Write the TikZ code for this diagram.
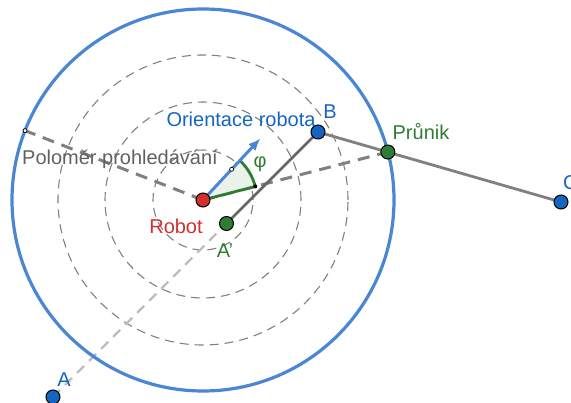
\documentclass[tikz,border=0pt]{standalone}
\usepackage{fontspec}
\setmainfont{Liberation Sans}
\usetikzlibrary{arrows.meta,calc}
\definecolor{ggblue}{HTML}{1565C0}
\definecolor{ggcircle}{HTML}{4A86D4}
\definecolor{ggred}{HTML}{D32F2F}
\definecolor{gggreen}{HTML}{2E7D32}
\definecolor{gggray}{HTML}{808080}
\definecolor{ggdark}{HTML}{666666}
\definecolor{gglight}{HTML}{BDBDBD}
\definecolor{ggtext}{HTML}{616161}
\begin{document}
\begin{tikzpicture}[x=1pt,y=1pt,
  pt/.style={circle,draw=black,line width=1pt,minimum size=14pt,inner sep=0pt},
  lbl/.style={font=\fontsize{20}{20}\selectfont,inner sep=0pt},
  ring/.style={draw=gggray,line width=1.1pt,dash pattern=on 9pt off 6pt},
  radline/.style={draw=gggray,line width=3pt,dash pattern=on 12pt off 8pt},
  seg/.style={line width=2.8pt}]
\useasboundingbox (0,-403) rectangle (571,0);
\coordinate (R) at (203,-200);
\coordinate (A) at (53,-397);
\coordinate (B) at (318,-132);
\coordinate (C) at (561,-202);
\coordinate (P) at ($(R)+(14.55:191)$);
\coordinate (E) at ($(R)+(158.7:191)$);
\coordinate (T) at ($(R)+(47:84)$);
\coordinate (Ap) at ($(A)!(R)!(B)$);
\coordinate (S) at ($(R)+(14.55:54)$);
% dashed rings
\foreach \r in {50,98,145} \draw[ring] (R) circle[radius=\r];
% lines
\draw[draw=gglight,line width=2.2pt,dash pattern=on 10pt off 7pt] (A) -- (Ap);
\draw[radline] (R) -- (E);
\draw[radline] (R) -- (P);
\draw[seg,draw=ggdark] (Ap) -- (B);
\draw[seg,draw=gggray] (B) -- (C);
% angle sector
\fill[gggreen!10] (R) -- (S) arc[start angle=14.55,end angle=47,radius=54] -- cycle;
\draw[gggreen,line width=2.8pt] (R) -- (S) arc[start angle=14.55,end angle=47,radius=54];
\fill[black] (S) circle[radius=2];
% orientation vector
\draw[ggcircle,line width=3pt,-{Latex[length=12pt,width=10pt]}] (R) -- (T);
\draw[black,fill=white,line width=0.7pt] ($(R)!0.5!(T)$) circle[radius=2];
% search circle
\draw[ggcircle,line width=3.2pt] (R) circle[radius=191];
\draw[black,fill=white,line width=0.8pt] (E) circle[radius=2];
% points
\node[pt,fill=ggred] (Rn) at (R) {};
\node[pt,fill=ggblue] (Bn) at (B) {};
\node[pt,fill=ggblue] (Cn) at (C) {};
\node[pt,fill=ggblue] (An) at (A) {};
\node[pt,fill=gggreen] (Pn) at (P) {};
\node[pt,fill=gggreen] (Apn) at (Ap) {};
% labels
\node[lbl,text=ggblue] (lo) at (241,-119) {Orientace robota};
\node[lbl,text=ggblue] (lb) at (330,-112) {B};
\node[lbl,text=gggreen] (lp) at (421,-132) {Průnik};
\node[lbl,text=ggblue,anchor=west] (lc) at (563,-183) {C};
\node[lbl,text=ggred] (lr) at (176,-226) {Robot};
\node[lbl,text=gggreen] (la) at (225,-251) {A'};
\node[lbl,text=ggblue] (lA) at (64,-380) {A};
\node[lbl,text=gggreen] (lphi) at (260,-164) {φ};
\node[lbl,text=ggtext] (lpol) at (120,-159) {Poloměr prohledávání};
\end{tikzpicture}
\end{document}
